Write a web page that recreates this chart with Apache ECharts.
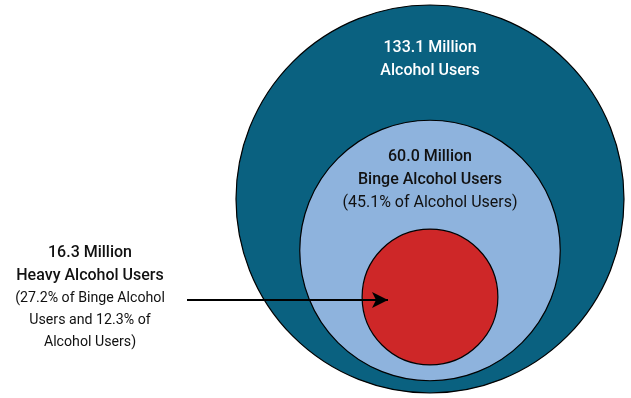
<!DOCTYPE html>
<html>
<head>
<meta charset="utf-8">
<script src="https://cdn.jsdelivr.net/npm/echarts@6/dist/echarts.min.js"></script>
<style>
  html, body { margin: 0; padding: 0; background: #fff; }
  #main { width: 631px; height: 398px; }
</style>
</head>
<body>
<div id="main"></div>
<script>
// nested groups, circle area proportional to users (millions)
const groups = ['Alcohol Users', 'Binge Alcohol Users', 'Heavy Alcohol Users']
const millions = [133.1, 60.0, 16.3]
const shareText = ['', '(45.1% of Alcohol Users)', '(27.2% of Binge Alcohol\nUsers and 12.3% of\nAlcohol Users)']
const centerX = [430, 430, 430]
const centerY = [199, 250.5, 297]
const colors = ['#0a6180', '#8eb3dd', '#ce2728']

const FONT = 'Roboto, "Liberation Sans", sans-serif'
const R_MAX = 194

function radius(v) {
  return R_MAX * Math.sqrt(v / millions[0])
}

function labelFor(i) {
  let txt = '{b|' + millions[i].toFixed(1) + ' Million}\n{b|' + groups[i] + '}'
  if (shareText[i]) {
    txt += '\n' + shareText[i].split('\n').map(s => '{n|' + s + '}').join('\n')
  }
  return txt
}

const labelColor = ['#ffffff', '#111111', '#111111']
const labelOffset = [[0, -140], [0, -71], [-340, 0]]
const noteSize = [15.5, 16, 14.2]

var myChart = echarts.init(document.getElementById('main'))
var option = {
  animation: false,
  grid: { left: 0, right: 0, top: 0, bottom: 0 },
  xAxis: { type: 'value', min: 0, max: 631, show: false },
  yAxis: { type: 'value', min: 0, max: 398, inverse: true, show: false },
  series: [{
    type: 'scatter',
    symbol: 'circle',
    symbolSize: (val) => 2 * radius(val[2]),
    emphasis: { disabled: true },
    data: groups.map((g, i) => ({
      name: g,
      value: [centerX[i], centerY[i], millions[i]],
      itemStyle: { color: colors[i], borderColor: '#000', borderWidth: 1.2, opacity: 1 },
      label: {
        show: true,
        position: 'inside',
        offset: labelOffset[i],
        align: 'center',
        formatter: labelFor(i),
        rich: {
          b: { fontFamily: FONT, fontSize: 16, fontWeight: 500, color: labelColor[i], lineHeight: 23 },
          n: { fontFamily: FONT, fontSize: noteSize[i], color: labelColor[i], lineHeight: 22 }
        }
      }
    })),
    markLine: {
      silent: true,
      symbol: ['none', 'arrow'],
      symbolSize: [12, 16],
      label: { show: false },
      lineStyle: { color: '#000', width: 2, type: 'solid' },
      data: [[{ coord: [187, 300] }, { coord: [388, 300] }]]
    }
  }]
}
myChart.setOption(option)
</script>
</body>
</html>
